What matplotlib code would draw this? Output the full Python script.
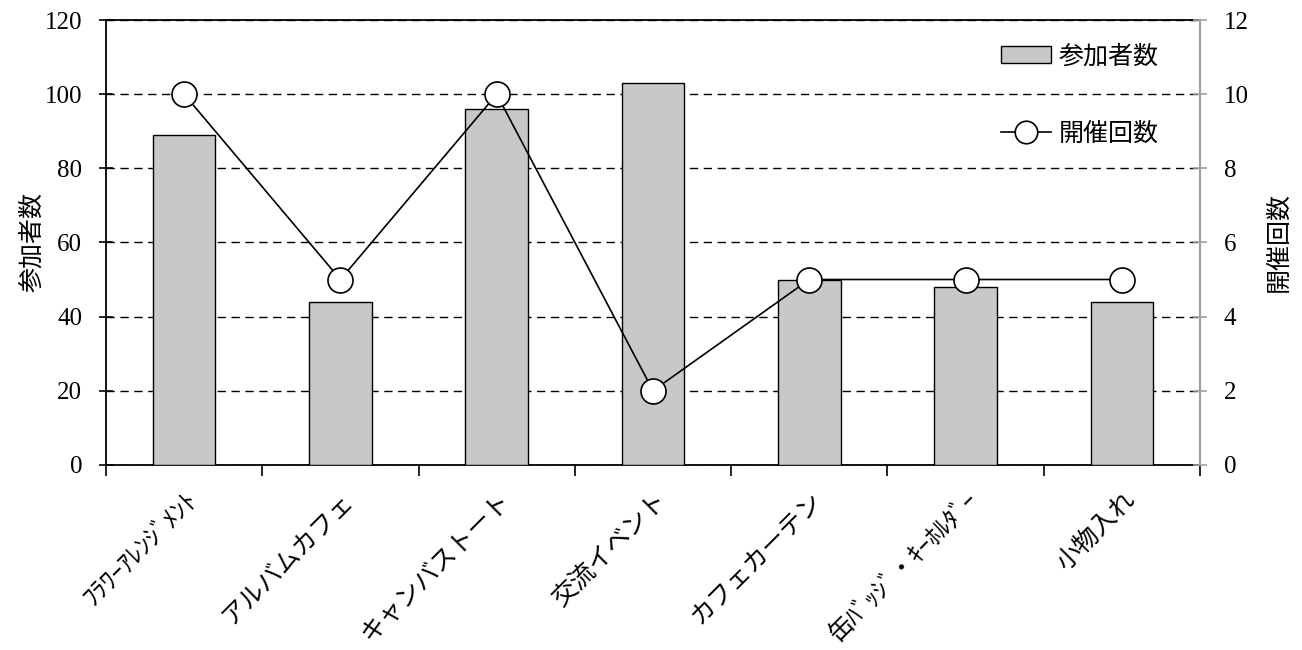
import matplotlib
matplotlib.use('Agg')
import numpy as np
from matplotlib import pyplot as plt

categories = ['ﾌﾗﾜｰｱﾚﾝｼﾞﾒﾝﾄ', 'アルバムカフェ', 'キャンバストート', '交流イベント',
              'カフェカーテン', '缶ﾊﾞｯｼﾞ・ｷｰﾎﾙﾀﾞｰ', '小物入れ']
participants = [89, 44, 96, 103, 50, 48, 44]
sessions = [10, 5, 10, 2, 5, 5, 5]

jp = ['Noto Sans CJK JP', 'DejaVu Sans']
serif = 'Liberation Serif'

fig, ax = plt.subplots(figsize=(13.02, 6.5), dpi=100)
fig.subplots_adjust(left=0.0814, right=0.9217, top=0.969, bottom=0.285)

x = np.arange(len(categories))
ax.bar(x, participants, width=0.4, color='#c8c8c8', edgecolor='black', linewidth=1.0,
       label='参加者数', zorder=3)
ax.set_xlim(-0.5, len(categories) - 0.5)
ax.set_ylim(0, 120)
ax.set_yticks(range(0, 121, 20))
ax.grid(axis='y', color='black', linestyle=(0, (6, 4)), linewidth=1.0, zorder=0)
ax.set_axisbelow(True)

# category boundaries get the tick marks, centres get the labels
ax.set_xticks(np.arange(-0.5, len(categories), 1.0), minor=True)
ax.set_xticks(x)
ax.set_xticklabels(categories, rotation=45, ha='right', rotation_mode='anchor',
                   family=jp, fontsize=18)
ax.tick_params(axis='x', which='major', length=0, pad=16)
ax.tick_params(axis='x', which='minor', length=8, width=1.2, direction='out', color='black')
ax.tick_params(axis='y', direction='inout', length=10, width=1.2, labelsize=18, pad=12)
for lab in ax.get_yticklabels():
    lab.set_family(serif)
ax.set_ylabel('参加者数', family=jp, fontsize=18, labelpad=0)

for s in ['left', 'bottom', 'top']:
    ax.spines[s].set_linewidth(1.3)
    ax.spines[s].set_color('black')
ax.spines['right'].set_visible(False)

ax2 = ax.twinx()
ax2.plot(x, sessions, color='black', linewidth=1.2, marker='o', markersize=18,
         markerfacecolor='white', markeredgecolor='black', markeredgewidth=1.2,
         label='開催回数', zorder=4)
ax2.set_ylim(0, 12)
ax2.set_yticks(range(0, 13, 2))
ax2.tick_params(axis='y', direction='inout', length=10, width=1.2, color='#a0a0a0',
                labelsize=18, pad=12)
for lab in ax2.get_yticklabels():
    lab.set_family(serif)
ax2.set_ylabel('開催回数', family=jp, fontsize=18, labelpad=12)
for s in ['left', 'bottom', 'top']:
    ax2.spines[s].set_visible(False)
ax2.spines['right'].set_color('#a0a0a0')
ax2.spines['right'].set_linewidth(1.5)

h1, l1 = ax.get_legend_handles_labels()
h2, l2 = ax2.get_legend_handles_labels()
leg = ax2.legend(h1 + h2, l1 + l2, loc='upper right', bbox_to_anchor=(0.962, 0.948),
                 frameon=False, prop={'family': jp, 'size': 18}, labelspacing=2.05,
                 handlelength=2.0, handletextpad=0.3, borderpad=0, borderaxespad=0,
                 markerscale=0.9)

fig.savefig('out.png', dpi=100)
